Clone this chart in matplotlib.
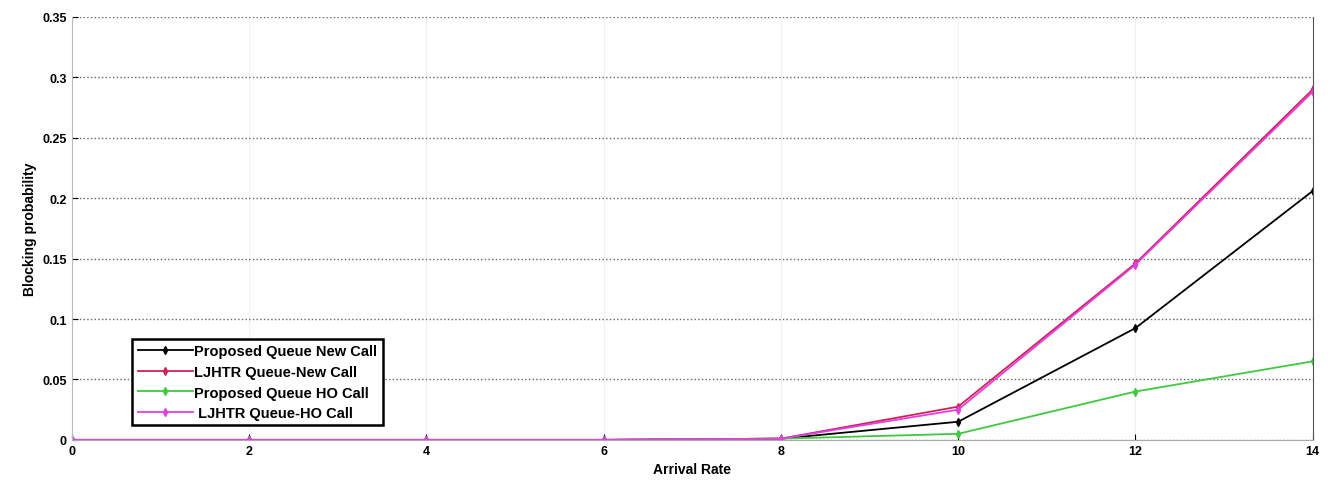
import matplotlib.pyplot as plt

# arrival rate vs blocking probability for the four queue schemes
arrival_rate = [0, 2, 4, 6, 8, 10, 12, 14]
prop_new = [0, 0, 0, 0, 0.001, 0.015, 0.0925, 0.206]
ljhtr_new = [0, 0, 0, 0, 0.001, 0.0275, 0.146, 0.29]
prop_ho = [0, 0, 0, 0, 0.001, 0.005, 0.040, 0.065]
ljhtr_ho = [0, 0, 0, 0, 0.001, 0.025, 0.145, 0.288]

labels = ["Proposed Queue New Call", "LJHTR Queue-New Call",
          "Proposed Queue HO Call", " LJHTR Queue-HO Call"]
colors = ["black", "#d0205a", "#40c840", "#e040e0"]

plt.rcParams['font.family'] = ['Liberation Sans', 'DejaVu Sans']
fig = plt.figure(figsize=(13.3, 4.85), dpi=100)
ax = fig.add_axes([0.054, 0.091, 0.933, 0.872])

series = [prop_new, ljhtr_new, prop_ho, ljhtr_ho]
for ys, lab, c in zip(series, labels, colors):
    ax.plot(arrival_rate, ys, color=c, lw=1.3, marker='d', markersize=4, label=lab)

ax.set_xlim(0, 14)
ax.set_ylim(0, 0.35)
ax.set_xticks(arrival_rate)
ax.set_yticks([0, 0.05, 0.1, 0.15, 0.2, 0.25, 0.3, 0.35])
ax.set_yticklabels(["0", "0.05", "0.1", "0.15", "0.2", "0.25", "0.3", "0.35"])
ax.tick_params(labelsize=9, length=4, direction='in')
for t in ax.get_xticklabels() + ax.get_yticklabels():
    t.set_fontweight('bold')

ax.grid(axis='y', linestyle=':', color='#666666', lw=1)
ax.grid(axis='x', linestyle='-', color='#f0f0f0', lw=0.8)

ax.spines['top'].set_visible(False)
ax.spines['left'].set_color('#bbbbbb')
ax.spines['bottom'].set_color('#aaaaaa')
ax.spines['right'].set_color('#555555')

ax.set_xlabel("Arrival Rate", fontsize=10, fontweight='bold')
ax.set_ylabel("Blocking probability", fontsize=10, fontweight='bold')

leg = ax.legend(loc='upper left', bbox_to_anchor=(0.043, 0.255),
                prop={'weight': 'bold', 'size': 10.5}, fancybox=False,
                framealpha=1, edgecolor='black', handlelength=3.8,
                borderpad=0.35, labelspacing=0.45, handletextpad=0.1)
leg.get_frame().set_linewidth(1.8)

fig.savefig("out.png", dpi=100)
